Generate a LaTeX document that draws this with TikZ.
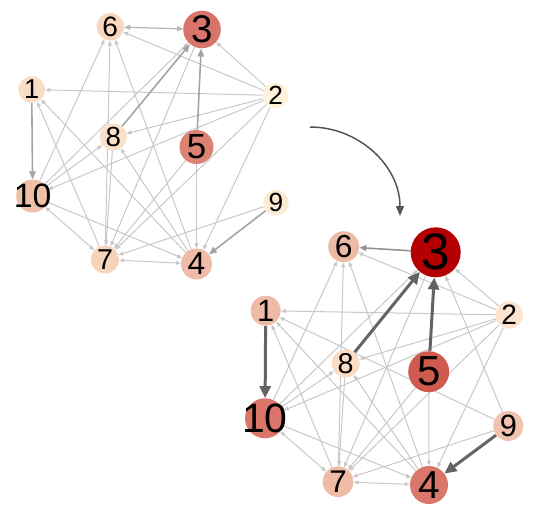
\documentclass[tikz,border=0pt]{standalone}
\usepackage{fontspec}
\setmainfont{Liberation Sans}
\usetikzlibrary{arrows.meta}
\pgfdeclarelayer{edges}
\pgfsetlayers{edges,main}
% graph 1 colours
\definecolor{ca1}{HTML}{F9DEC7}
\definecolor{ca2}{HTML}{FEF0DA}
\definecolor{ca3}{HTML}{D8756A}
\definecolor{ca4}{HTML}{EEBCA8}
\definecolor{ca5}{HTML}{DB8273}
\definecolor{ca6}{HTML}{F8D7C0}
\definecolor{ca7}{HTML}{F7D3BA}
\definecolor{ca8}{HTML}{FBE0C9}
\definecolor{ca9}{HTML}{FDEAD3}
\definecolor{ca10}{HTML}{F0BFA8}
% graph 2 colours
\definecolor{cb1}{HTML}{EDBBA6}
\definecolor{cb2}{HTML}{FCE4CE}
\definecolor{cb3}{HTML}{B40000}
\definecolor{cb4}{HTML}{D8776A}
\definecolor{cb5}{HTML}{CF5B4E}
\definecolor{cb6}{HTML}{EDBAA5}
\definecolor{cb7}{HTML}{EFBBA5}
\definecolor{cb8}{HTML}{FADCC5}
\definecolor{cb9}{HTML}{F1C3AE}
\definecolor{cb10}{HTML}{D97669}
\definecolor{lgray}{HTML}{C8C8C8}
\definecolor{mgray}{HTML}{A4A4A4}
\definecolor{dgray}{HTML}{646464}
\definecolor{agray}{HTML}{555555}
\newcommand\vtx[6]{%
  \node[circle,fill=#5,minimum size={2*#4pt},inner sep=0pt] (#1) at (#2,#3) {};
  \pgfmathsetmacro\vfs{2.05*#4}%
  \node[inner sep=0pt] (#1l) at (#1) {\fontsize{\vfs pt}{\vfs pt}\selectfont #6};
}
\tikzset{
  elt/.style={draw=lgray, line width=1pt, -{Triangle[length=5pt,width=4pt]}},
  ebi/.style={draw=lgray, line width=1pt, {Triangle[length=5pt,width=4pt]}-{Triangle[length=5pt,width=4pt]}},
  emid/.style={draw=mgray, line width=1.6pt, -{Triangle[length=8pt,width=6.5pt]}},
  embi/.style={draw=mgray!80, line width=1.2pt, {Triangle[length=6pt,width=5pt]}-{Triangle[length=6pt,width=5pt]}},
  edark/.style={draw=dgray, line width=3pt, -{Triangle[length=12pt,width=11pt]}},
  edm/.style={draw=mgray!90!black, line width=1.6pt, -{Triangle[length=7pt,width=6pt]}},
}
\begin{document}
\begin{tikzpicture}[x=1pt,y=-1pt]
\useasboundingbox (0,0) rectangle (540,516);
% graph 1
\vtx{a1}{31.7}{89.5}{13.3}{ca1}{1}
\vtx{a2}{275.7}{95.5}{12.8}{ca2}{2}
\vtx{a3}{202}{29.5}{18.8}{ca3}{3}
\vtx{a4}{196.5}{264}{15.5}{ca4}{4}
\vtx{a5}{196.5}{147}{17}{ca5}{5}
\vtx{a6}{110.3}{26.7}{13.7}{ca6}{6}
\vtx{a7}{105}{259.5}{14}{ca7}{7}
\vtx{a8}{113.3}{137}{13.5}{ca8}{8}
\vtx{a9}{276}{202.7}{12.8}{ca9}{9}
\vtx{a10}{32.7}{196}{16.5}{ca10}{10}
% graph 2
\vtx{b1}{265.7}{310.7}{15}{cb1}{1}
\vtx{b2}{509.3}{315}{13.7}{cb2}{2}
\vtx{b3}{435.7}{252.3}{25}{cb3}{3}
\vtx{b4}{429}{485}{19}{cb4}{4}
\vtx{b5}{428.7}{371.7}{20.5}{cb5}{5}
\vtx{b6}{343.7}{246.7}{15.5}{cb6}{6}
\vtx{b7}{338}{481.7}{15.3}{cb7}{7}
\vtx{b8}{345.7}{363.3}{14}{cb8}{8}
\vtx{b9}{508.3}{426}{15}{cb9}{9}
\vtx{b10}{265}{418.3}{20}{cb10}{10}
\coordinate (cs) at (310,127);
\coordinate (ce) at (400,216);
\begin{pgfonlayer}{edges}
% graph 1 edges
\foreach \s/\t in {2/6,2/3,2/1,2/8,2/10,2/7,2/4,10/3,10/6,10/8,10/4,7/1,4/1,7/6,8/7,4/6,4/8,9/7,5/4,5/7,3/7}
  \draw[elt] (a\s) -- (a\t);
\foreach \s/\t in {7/10,7/4}
  \draw[ebi] (a\s) -- (a\t);
\draw[embi] (a6) -- (a3);
\foreach \s/\t in {8/3,5/3,1/10,9/4}
  \draw[emid] (a\s) -- (a\t);
% graph 2 edges
\foreach \s/\t in {2/6,2/3,2/1,2/8,2/10,2/7,2/4,10/3,10/6,10/8,10/4,7/1,4/1,9/1,9/3,7/6,8/7,4/6,4/8,9/7,5/4,5/7,3/7}
  \draw[elt] (b\s) -- (b\t);
\foreach \s/\t in {7/10,7/4}
  \draw[ebi] (b\s) -- (b\t);
\draw[edm] (b3) -- (b6);
\foreach \s/\t in {8/3,5/3,1/10,9/4}
  \draw[edark] (b\s) -- (b\t);
\end{pgfonlayer}
% transition arrow
\draw[draw=agray, line width=1.5pt, -{Triangle[length=10pt,width=8pt]}]
  (cs) .. controls (359,127) and (400,166) .. (ce);
\end{tikzpicture}
\end{document}
